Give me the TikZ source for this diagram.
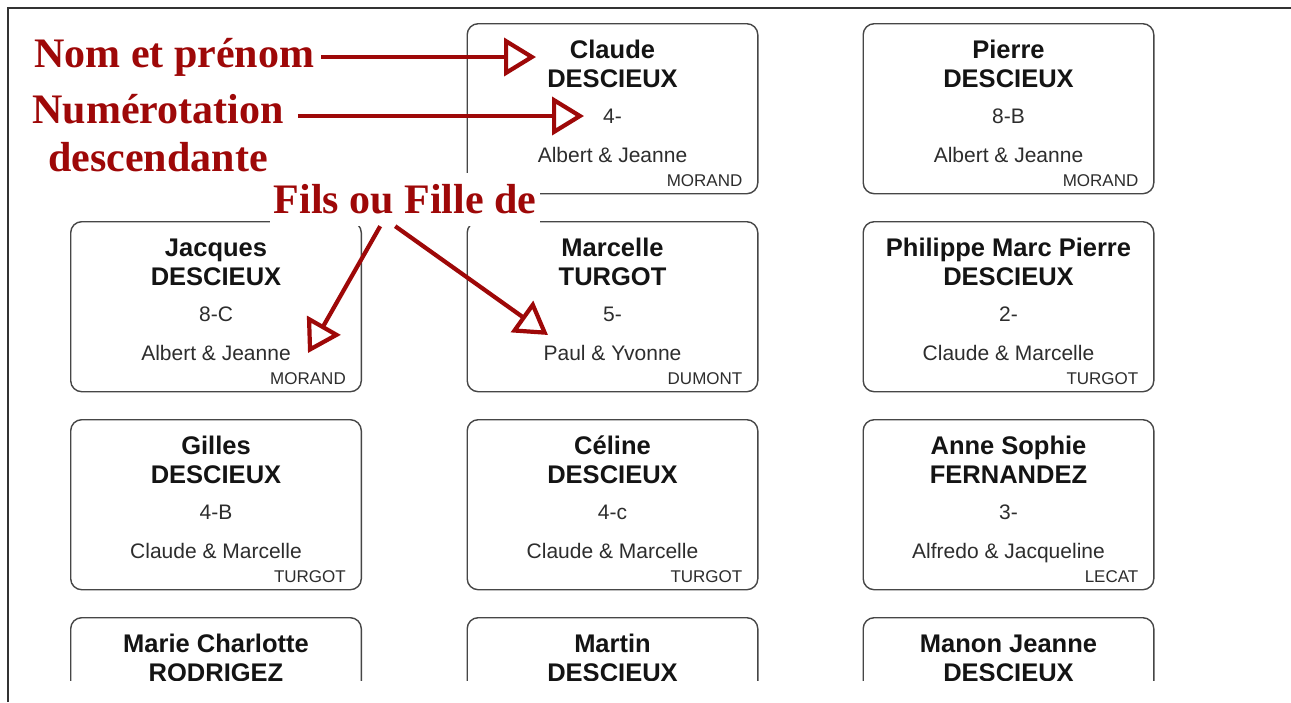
\documentclass[tikz,border=0pt]{standalone}
\usepackage{fontspec}
\setmainfont{Liberation Serif}
\setsansfont{Liberation Sans}
\usetikzlibrary{arrows.meta}
\definecolor{labred}{RGB}{158,8,8}
\definecolor{cardline}{RGB}{70,70,70}
\definecolor{framecol}{RGB}{50,50,50}
\definecolor{txtdark}{RGB}{20,20,20}
\definecolor{txtgray}{RGB}{45,45,45}
\tikzset{
  cardbox/.style={draw=cardline, line width=1.4pt, rounded corners=11pt, minimum width=290.6pt, minimum height=170pt, inner sep=0pt, fill=white},
  namefont/.style={font=\sffamily\bfseries\fontsize{25.5}{28}\selectfont, text=txtdark, inner sep=0pt},
  numfont/.style={font=\sffamily\fontsize{21}{24}\selectfont, text=txtgray, inner sep=0pt},
  surfont/.style={font=\sffamily\fontsize{17}{20}\selectfont, text=txtgray, inner sep=0pt},
  redlabel/.style={font=\bfseries\fontsize{42}{48}\selectfont, text=labred, inner sep=0pt},
  redarrow/.style={draw=labred, line width=4.2pt, -{Triangle[open, length=32pt, width=38pt]}},
}
\newcommand\famcard[8]{%
  \node[cardbox, anchor=north west] (#1) at (#2,#3) {};
  \node[namefont, anchor=base] (#1-a) at ([yshift=-35pt]#1.north) {#4};
  \node[namefont, anchor=base] (#1-b) at ([yshift=-64pt]#1.north) {#5};
  \node[numfont, anchor=base] (#1-c) at ([yshift=-100pt]#1.north) {#6};
  \node[numfont, anchor=base] (#1-d) at ([yshift=-139pt]#1.north) {#7};
  \node[surfont, anchor=base east] (#1-e) at ([xshift=-16pt,yshift=-163pt]#1.north east) {#8};
}
\newcommand\topcard[5]{%
  \node[cardbox, anchor=north west] (#1) at (#2,#3) {};
  \node[namefont, anchor=base] (#1-a) at ([yshift=-35pt]#1.north) {#4};
  \node[namefont, anchor=base] (#1-b) at ([yshift=-64pt]#1.north) {#5};
}
\begin{document}
\begin{tikzpicture}[x=1pt, y=-1pt]
\useasboundingbox (0,0) rectangle (1291,702);
\fill[white] (0,0) rectangle (1291,702);
\draw[framecol, line width=2pt] (8,702) -- (8,8) -- (1291,8);

% row 1
\famcard{claude}{466.5}{23}{Claude}{DESCIEUX}{4-}{Albert \& Jeanne}{MORAND}
\famcard{pierre}{862.5}{23}{Pierre}{DESCIEUX}{8-B}{Albert \& Jeanne}{MORAND}
% row 2
\famcard{jacques}{70}{221}{Jacques}{DESCIEUX}{8-C}{Albert \& Jeanne}{MORAND}
\famcard{marcelle}{466.5}{221}{Marcelle}{TURGOT}{5-}{Paul \& Yvonne}{DUMONT}
\famcard{philippe}{862.5}{221}{Philippe Marc Pierre}{DESCIEUX}{2-}{Claude \& Marcelle}{TURGOT}
% row 3
\famcard{gilles}{70}{419}{Gilles}{DESCIEUX}{4-B}{Claude \& Marcelle}{TURGOT}
\famcard{celine}{466.5}{419}{Céline}{DESCIEUX}{4-c}{Claude \& Marcelle}{TURGOT}
\famcard{anne}{862.5}{419}{Anne Sophie}{FERNANDEZ}{3-}{Alfredo \& Jacqueline}{LECAT}
% row 4 (cut off)
\begin{scope}
  \clip (0,0) rectangle (1291,680);
  \topcard{marie}{70}{617}{Marie Charlotte}{RODRIGEZ}
  \topcard{martin}{466.5}{617}{Martin}{DESCIEUX}
  \topcard{manon}{862.5}{617}{Manon Jeanne}{DESCIEUX}
\end{scope}

% labels
\node[redlabel, anchor=base west] (nom) at (34,67) {Nom et prénom};
\node[redlabel, align=center, anchor=base] (num) at (158,171) {Numérotation\\descendante};
\node[redlabel, fill=white, anchor=base west, inner xsep=0pt, minimum width=270pt, text height=40pt, text depth=13pt] (fils) at (270,213) {Fils ou Fille de};

% arrows
\coordinate (t1) at (536,57);
\coordinate (t2) at (584,116);
\coordinate (t3) at (308,353);
\coordinate (t4) at (548,335);
\draw[redarrow] ([xshift=7pt]t1 -| nom.east) -- (t1);
\draw[redarrow] ([xshift=14pt]t2 -| num.east) -- (t2);
\draw[redarrow] ([xshift=-25pt]fils.south) -- (t3);
\draw[redarrow] ([xshift=-10pt]fils.south) -- (t4);
\end{tikzpicture}
\end{document}
